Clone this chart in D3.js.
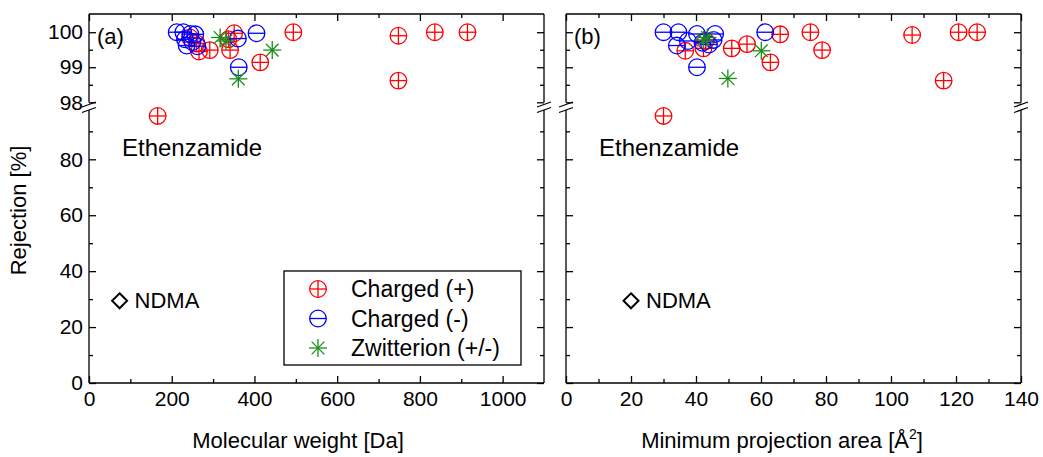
<!DOCTYPE html>
<html>
<head>
<meta charset="utf-8">
<script src="https://cdn.jsdelivr.net/npm/d3@7"></script>
<style>
body{margin:0;background:#fff;}
text{font-family:"Liberation Sans",Arial,sans-serif;fill:#000;}
</style>
</head>
<body>
<div id="chart"></div>
<script>
// panel (a): molecular weight [Da], panel (b): minimum projection area
var posA = [[166,95.5],[244,99.85],[260,99.68],[266,99.45],[292,99.49],[337,99.8],[341,99.49],[351,99.97],[414,99.14],[494,100],[748,99.9],[748,98.62],[836,100],[915,100]];
var negA = [[212,100],[228,100],[245,99.95],[257,99.94],[232,99.8],[236,99.62],[250,99.72],[262,99.6],[360,99.82],[362,99.0],[405,99.97]];
var zwiA = [[317,99.85],[331,99.75],[361,98.67],[443,99.49]];
var posB = [[30,95.5],[36.7,99.47],[42.3,99.54],[43,99.75],[51,99.54],[55.7,99.66],[62.9,99.14],[65.9,99.94],[75.2,100],[78.8,99.49],[106.5,99.92],[116.2,98.62],[120.8,100],[126.5,100]];
var negB = [[30,100],[34.6,100],[34.1,99.62],[37.5,99.75],[40.3,99.95],[40.3,99.0],[42,99.7],[45.9,99.95],[45.4,99.78],[44,99.65],[61.3,100]];
var zwiB = [[42.3,99.78],[43.5,99.85],[49.8,98.68],[60.1,99.47]];
var ndmaA = [74,29.4], ndmaB = [20,29.4];

var yTicksLo = [0,20,40,60,80], yMinorLo = [10,30,50,70,90];
var yTicksUp = [98,99,100], yMinorUp = [98.5,99.5];
var legendNames = ["Charged (+)","Charged (-)","Zwitterion (+/-)"];

var W = 1043, H = 457, yTop = 14, yBot = 383;
var svg = d3.select("#chart").append("svg").attr("width",W).attr("height",H);

var yLo = d3.scaleLinear().domain([0,80]).range([yBot,159.3]);
var yUp = d3.scaleLinear().domain([98,100.52]).range([102.3,yTop]);
var loTop = 110, upBot = 102.5;
function yy(v){ return v >= 98 ? yUp(v) : yLo(v); }

var red = "#ff0000", blue = "#0000ff", green = "#1a8c1a";
var FS = "21px";

function drawMarker(g, type, x, y){
  var r = 8.3;
  if (type == "zwi") {
    var s = 9;
    [0,45,90,135].forEach(function(a){
      var t = a*Math.PI/180;
      g.append("line").attr("x1",x-s*Math.cos(t)).attr("y1",y-s*Math.sin(t))
        .attr("x2",x+s*Math.cos(t)).attr("y2",y+s*Math.sin(t))
        .attr("stroke",green).attr("stroke-width",1.3);
    });
    return;
  }
  var c = type == "pos" ? red : blue;
  g.append("circle").attr("cx",x).attr("cy",y).attr("r",r)
    .attr("fill","none").attr("stroke",c).attr("stroke-width",1.3);
  g.append("line").attr("x1",x-r).attr("x2",x+r).attr("y1",y).attr("y2",y)
    .attr("stroke",c).attr("stroke-width",1.3);
  if (type == "pos")
    g.append("line").attr("x1",x).attr("x2",x).attr("y1",y-r).attr("y2",y+r)
      .attr("stroke",c).attr("stroke-width",1.3);
}

function breakMark(g, x){
  [104.5,110].forEach(function(yb){
    g.append("line").attr("x1",x-7).attr("y1",yb+2.5).attr("x2",x+7).attr("y2",yb-2.5)
      .attr("stroke","#000").attr("stroke-width",1.3);
  });
}

function panel(opt){
  var x = d3.scaleLinear().domain([0,opt.xmax]).range([opt.left,opt.right]);
  var g = svg.append("g");

  // frame
  g.append("line").attr("x1",opt.left).attr("x2",opt.right).attr("y1",yTop).attr("y2",yTop).attr("stroke","#000").attr("stroke-width",1.3);
  g.append("line").attr("x1",opt.left).attr("x2",opt.right).attr("y1",yBot).attr("y2",yBot).attr("stroke","#000").attr("stroke-width",1.3);
  [opt.left,opt.right].forEach(function(xx){
    g.append("line").attr("x1",xx).attr("x2",xx).attr("y1",yTop).attr("y2",upBot).attr("stroke","#000").attr("stroke-width",1.3);
    g.append("line").attr("x1",xx).attr("x2",xx).attr("y1",loTop).attr("y2",yBot).attr("stroke","#000").attr("stroke-width",1.3);
  });

  // x axes
  g.append("g").attr("transform","translate(0,"+yBot+")")
    .call(d3.axisBottom(x).tickValues(d3.range(0,opt.xmax+1,opt.major)).tickSizeInner(-7).tickSizeOuter(0).tickPadding(8).tickFormat(d3.format("d")));
  g.append("g").attr("transform","translate(0,"+yBot+")")
    .call(d3.axisBottom(x).tickValues(d3.range(opt.major/2,opt.xmax,opt.major)).tickSizeInner(-4).tickSizeOuter(0).tickFormat(""));
  g.append("g").attr("transform","translate(0,"+yTop+")")
    .call(d3.axisTop(x).tickValues(d3.range(0,opt.xmax+1,opt.major)).tickSizeInner(-7).tickSizeOuter(0).tickFormat(""));
  g.append("g").attr("transform","translate(0,"+yTop+")")
    .call(d3.axisTop(x).tickValues(d3.range(opt.major/2,opt.xmax,opt.major)).tickSizeInner(-4).tickSizeOuter(0).tickFormat(""));

  // y axes
  [[yLo,yTicksLo,yMinorLo],[yUp,yTicksUp,yMinorUp]].forEach(function(s){
    g.append("g").attr("transform","translate("+opt.left+",0)")
      .call(d3.axisLeft(s[0]).tickValues(s[1]).tickSizeInner(-7).tickSizeOuter(0).tickPadding(6)
        .tickFormat(opt.labels ? d3.format("d") : ""));
    g.append("g").attr("transform","translate("+opt.left+",0)")
      .call(d3.axisLeft(s[0]).tickValues(s[2]).tickSizeInner(-4).tickSizeOuter(0).tickFormat(""));
    g.append("g").attr("transform","translate("+opt.right+",0)")
      .call(d3.axisRight(s[0]).tickValues(s[1]).tickSizeInner(-7).tickSizeOuter(0).tickFormat(""));
    g.append("g").attr("transform","translate("+opt.right+",0)")
      .call(d3.axisRight(s[0]).tickValues(s[2]).tickSizeInner(-4).tickSizeOuter(0).tickFormat(""));
  });
  g.selectAll(".domain").remove();
  g.selectAll(".tick line").attr("stroke","#000").attr("stroke-width",1.3);
  g.selectAll(".tick text").attr("font-family",null).style("font-size",FS).style("font-family","'Liberation Sans',Arial,sans-serif");

  breakMark(g, opt.left);
  breakMark(g, opt.right);

  // points
  var m = g.append("g");
  opt.pos.forEach(function(d){ drawMarker(m,"pos",x(d[0]),yy(d[1])); });
  opt.neg.forEach(function(d){ drawMarker(m,"neg",x(d[0]),yy(d[1])); });
  opt.zwi.forEach(function(d){ drawMarker(m,"zwi",x(d[0]),yy(d[1])); });

  // NDMA diamond
  var nx = x(opt.ndma[0]), ny = yLo(opt.ndma[1]);
  g.append("path").attr("d","M"+nx+","+(ny-7.5)+"L"+(nx+7.5)+","+ny+"L"+nx+","+(ny+7.5)+"L"+(nx-7.5)+","+ny+"Z")
    .attr("fill","none").attr("stroke","#000").attr("stroke-width",2);
  g.append("text").attr("x",nx+15).attr("y",ny).attr("dy","0.35em").style("font-size","22px").text("NDMA");
  g.append("text").attr("x",opt.left+33).attr("y",yLo(84.3)).attr("dy","0.35em").style("font-size","24px").text("Ethenzamide");
  g.append("text").attr("x",opt.left+8).attr("y",yUp(100)+4).attr("dy","0.35em").style("font-size","22px").text(opt.tag);

  return {g:g, x:x};
}

var pa = panel({left:89,right:544,xmax:1100,major:200,labels:true,pos:posA,neg:negA,zwi:zwiA,ndma:ndmaA,tag:"(a)"});
var pb = panel({left:566,right:1021,xmax:140,major:20,labels:false,pos:posB,neg:negB,zwi:zwiB,ndma:ndmaB,tag:"(b)"});

// axis titles
svg.append("text").attr("x",298).attr("y",448).attr("text-anchor","middle").style("font-size","22px").text("Molecular weight [Da]");
var tb = svg.append("text").attr("x",782).attr("y",448).attr("text-anchor","middle").style("font-size","22px");
tb.append("tspan").text("Minimum projection area [Å");
tb.append("tspan").attr("dy",-9).style("font-size","14px").text("2");
tb.append("tspan").attr("dy",9).text("]");
svg.append("text").attr("transform","translate(26,"+((yTop+yBot)/2+12)+") rotate(-90)")
  .attr("text-anchor","middle").style("font-size","22px").text("Rejection [%]");

// legend
var lg = svg.append("g");
lg.append("rect").attr("x",284).attr("y",271).attr("width",237).attr("height",94)
  .attr("fill","#fff").attr("stroke","#000").attr("stroke-width",1.3);
["pos","neg","zwi"].forEach(function(t,i){
  var ly = 289 + i*29.5;
  drawMarker(lg,t,318,ly);
  lg.append("text").attr("x",351).attr("y",ly).attr("dy","0.35em").style("font-size","23px").text(legendNames[i]);
});
</script>
</body>
</html>
